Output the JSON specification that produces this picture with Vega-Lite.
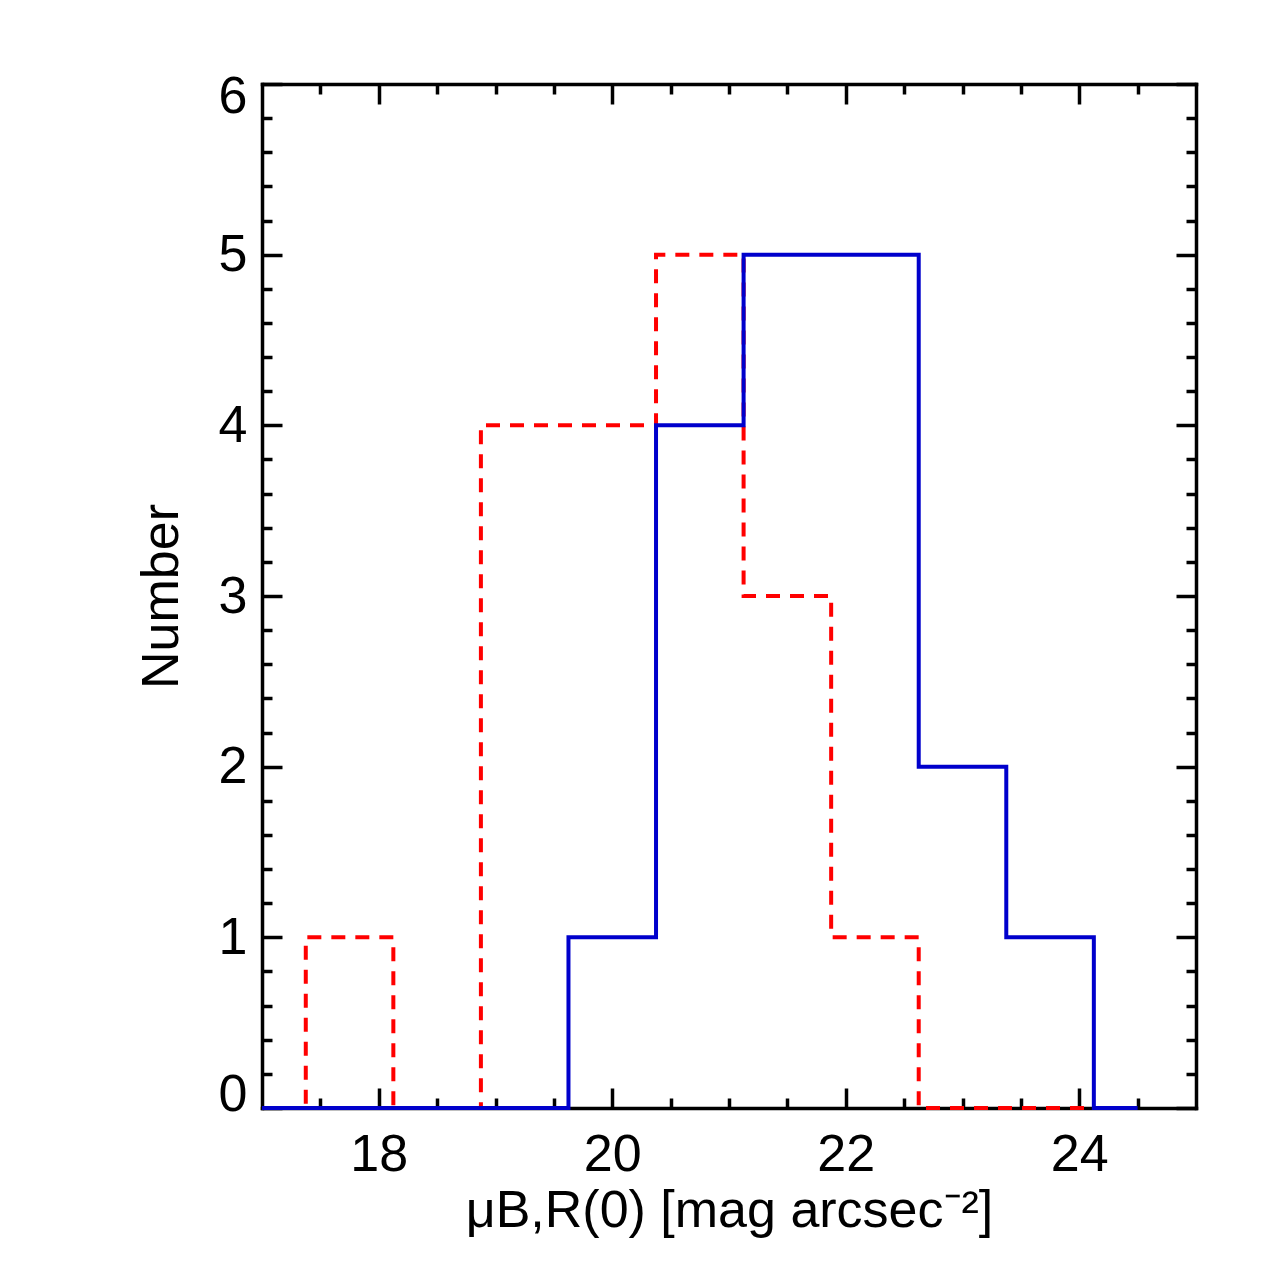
{
  "$schema": "https://vega.github.io/schema/vega-lite/v6.json",
  "width": 934,
  "height": 1024,
  "autosize": {"type": "none"},
  "padding": {"left": 262, "top": 84, "right": 79, "bottom": 167},
  "background": "white",
  "config": {
    "view": {"stroke": null},
    "axis": {
      "grid": false,
      "domainColor": "black",
      "domainWidth": 3.5,
      "domainCap": "square",
      "tickColor": "black",
      "tickWidth": 3.5,
      "labelColor": "black",
      "labelFont": "Liberation Sans",
      "labelFontSize": 52,
      "titleColor": "black",
      "titleFont": "Liberation Sans",
      "titleFontSize": 52,
      "titleFontWeight": "normal"
    }
  },
  "datasets": {
    "hist": [
      {"series": "red", "mu": 17.0, "n": 0},
      {"series": "red", "mu": 17.375, "n": 1},
      {"series": "red", "mu": 18.125, "n": 0},
      {"series": "red", "mu": 18.875, "n": 4},
      {"series": "red", "mu": 19.625, "n": 4},
      {"series": "red", "mu": 20.375, "n": 5},
      {"series": "red", "mu": 21.125, "n": 3},
      {"series": "red", "mu": 21.875, "n": 1},
      {"series": "red", "mu": 22.625, "n": 0},
      {"series": "red", "mu": 24.125, "n": 0},
      {"series": "blue", "mu": 17.0, "n": 0},
      {"series": "blue", "mu": 19.625, "n": 1},
      {"series": "blue", "mu": 20.375, "n": 4},
      {"series": "blue", "mu": 21.125, "n": 5},
      {"series": "blue", "mu": 21.875, "n": 5},
      {"series": "blue", "mu": 22.625, "n": 2},
      {"series": "blue", "mu": 23.375, "n": 1},
      {"series": "blue", "mu": 24.125, "n": 0},
      {"series": "blue", "mu": 24.5, "n": 0}
    ]
  },
  "data": {"name": "hist"},
  "resolve": {"axis": {"x": "independent", "y": "independent"}},
  "layer": [
    {
      "transform": [{"filter": "datum.series === 'red'"}],
      "mark": {"type": "line", "interpolate": "step-after", "color": "#ff0000", "strokeWidth": 4, "strokeDash": [14, 10]},
      "encoding": {
        "x": {"field": "mu", "type": "quantitative", "scale": {"domain": [17, 25], "nice": false, "zero": false},
          "axis": {"orient": "bottom", "values": [18, 20, 22, 24], "tickSize": -20, "labelPadding": 41, "labelFlush": false,
            "title": "μB,R(0) [mag arcsec⁻²]", "titlePadding": 5}},
        "y": {"field": "n", "type": "quantitative", "scale": {"domain": [0, 6], "nice": false},
          "axis": {"orient": "left", "values": [0, 1, 2, 3, 4, 5, 6], "tickSize": -20, "labelPadding": 35, "labelFlush": true, "labelFlushOffset": 13,
            "title": "Number", "titlePadding": 30}}
      }
    },
    {
      "transform": [{"filter": "datum.series === 'red'"}],
      "mark": {"type": "line", "interpolate": "step-after", "strokeOpacity": 0},
      "encoding": {
        "x": {"field": "mu", "type": "quantitative", "scale": {"domain": [17, 25], "nice": false, "zero": false},
          "axis": {"orient": "bottom", "values": [17.5, 18.5, 19, 19.5, 20.5, 21, 21.5, 22.5, 23, 23.5, 24.5], "tickSize": -10, "labels": false, "domain": false, "title": null}},
        "y": {"field": "n", "type": "quantitative", "scale": {"domain": [0, 6], "nice": false},
          "axis": {"orient": "left", "values": [0.2, 0.4, 0.6, 0.8, 1.2, 1.4, 1.6, 1.8, 2.2, 2.4, 2.6, 2.8, 3.2, 3.4, 3.6, 3.8, 4.2, 4.4, 4.6, 4.8, 5.2, 5.4, 5.6, 5.8], "tickSize": -10, "labels": false, "domain": false, "title": null}}
      }
    },
    {
      "transform": [{"filter": "datum.series === 'blue'"}],
      "mark": {"type": "line", "interpolate": "step-after", "color": "#0000cc", "strokeWidth": 4},
      "encoding": {
        "x": {"field": "mu", "type": "quantitative", "scale": {"domain": [17, 25], "nice": false, "zero": false},
          "axis": {"orient": "top", "values": [18, 20, 22, 24], "tickSize": -20, "labels": false, "title": null}},
        "y": {"field": "n", "type": "quantitative", "scale": {"domain": [0, 6], "nice": false},
          "axis": {"orient": "right", "values": [0, 1, 2, 3, 4, 5, 6], "tickSize": -20, "labels": false, "title": null}}
      }
    },
    {
      "transform": [{"filter": "datum.series === 'blue'"}],
      "mark": {"type": "line", "interpolate": "step-after", "strokeOpacity": 0},
      "encoding": {
        "x": {"field": "mu", "type": "quantitative", "scale": {"domain": [17, 25], "nice": false, "zero": false},
          "axis": {"orient": "top", "values": [17.5, 18.5, 19, 19.5, 20.5, 21, 21.5, 22.5, 23, 23.5, 24.5], "tickSize": -10, "labels": false, "domain": false, "title": null}},
        "y": {"field": "n", "type": "quantitative", "scale": {"domain": [0, 6], "nice": false},
          "axis": {"orient": "right", "values": [0.2, 0.4, 0.6, 0.8, 1.2, 1.4, 1.6, 1.8, 2.2, 2.4, 2.6, 2.8, 3.2, 3.4, 3.6, 3.8, 4.2, 4.4, 4.6, 4.8, 5.2, 5.4, 5.6, 5.8], "tickSize": -10, "labels": false, "domain": false, "title": null}}
      }
    }
  ]
}
